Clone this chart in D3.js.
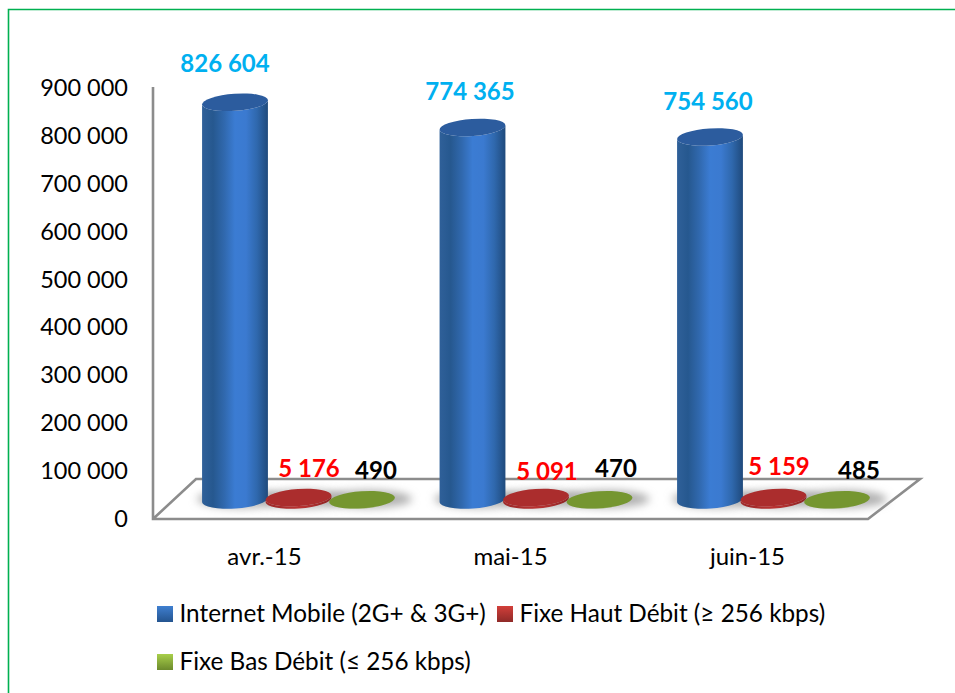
<!DOCTYPE html>
<html>
<head>
<meta charset="utf-8">
<script src="https://cdn.jsdelivr.net/npm/d3@7"></script>
<style>
  html, body { margin: 0; padding: 0; background: #fff; }
  svg { display: block; }
  text { font-family: Lato, "Open Sans", sans-serif; }
</style>
</head>
<body>
<div id="chart"></div>
<script>
// Data
const months = ['avr.-15', 'mai-15', 'juin-15']
const seriesNames = ['Internet Mobile (2G+ & 3G+)', 'Fixe Haut Débit (≥ 256 kbps)', 'Fixe Bas Débit (≤ 256 kbps)']
const mobile = [826604, 774365, 754560]
const hautDebit = [5176, 5091, 5159]
const basDebit = [490, 470, 485]
const yTicks = [0, 100000, 200000, 300000, 400000, 500000, 600000, 700000, 800000, 900000]

function draw() {
  const dimensions = { width: 955, height: 693 }
  const series = [mobile, hautDebit, basDebit]
  const labelColors = ['#00b0f0', '#ff0000', '#000000']

  // hand placed labels, same as the original chart: [series][month] -> [x, y]
  const labelPos = [
    [[225, 72], [470, 100], [708, 110]],
    [[309, 477], [547, 480], [779, 475]],
    [[376, 479], [616, 477], [859, 479]]
  ]

  const svg = d3.select('#chart')
    .append('svg')
    .attr('width', dimensions.width)
    .attr('height', dimensions.height)

  const defs = svg.append('defs')
  defs.append('filter').attr('id', 'blur')
    .attr('x', '-30%').attr('y', '-60%').attr('width', '160%').attr('height', '220%')
    .append('feGaussianBlur').attr('stdDeviation', 4)

  // side to side shading of each cylinder
  const bodyStops = [
    ['#2f6099', '#26588f', '#3068ad', '#3b7cd3', '#3b7ad0', '#2f68ad', '#1f4a7c'],
    ['#a12a2a', '#a12a2a', '#b03030', '#b93232', '#b03030', '#9c2828', '#8d2424'],
    ['#6f8f2c', '#6f8f2c', '#7a9a30', '#7f9f32', '#7a9a30', '#6d8c2b', '#627f27']
  ]
  const topColors = ['#2c5c9e', '#ab2d2d', '#759630']
  bodyStops.forEach((stops, i) => {
    const g = defs.append('linearGradient').attr('id', `body${i}`)
    stops.forEach((c, k) => {
      g.append('stop').attr('offset', k / (stops.length - 1)).attr('stop-color', c)
    })
  })
  const legendStops = [['#3f7fd0', '#24548f'], ['#d23f3a', '#8f2a28'], ['#a8cf4a', '#6c8a2c']]
  legendStops.forEach((stops, i) => {
    const g = defs.append('linearGradient').attr('id', `swatch${i}`)
      .attr('x1', 0).attr('x2', 0).attr('y1', 0).attr('y2', 1)
    g.append('stop').attr('offset', 0).attr('stop-color', stops[0])
    g.append('stop').attr('offset', 1).attr('stop-color', stops[1])
  })

  // green page frame
  svg.append('path')
    .attr('d', 'M8.5,693 V9.5 H955')
    .attr('fill', 'none')
    .attr('stroke', '#00b050')
    .attr('stroke-width', 1.6)

  // Scales
  const yScale = d3.scaleLinear().domain([0, 900000]).range([519, 88])
  // bars stand on the floor, further back than the axis, so they scale a bit differently
  const barScale = d3.scaleLinear().domain([0, 900000]).range([500, 67])
  const xGroup = d3.scalePoint().domain(months).range([235, 710])
  const xSeries = d3.scalePoint().domain(d3.range(3)).range([0, 127])
  const xLabel = d3.scaleOrdinal().domain(months).range([264, 510, 747])

  // 3d floor and walls
  svg.append('path')
    .attr('d', 'M153,87 V519 H868 L920,479 H196 L153,519')
    .attr('fill', 'none')
    .attr('stroke', '#8c8c8c')
    .attr('stroke-width', 2.6)

  // y axis
  const yAxis = d3.axisLeft(yScale)
    .tickValues(yTicks)
    .tickSize(0)
    .tickPadding(0)
    .tickFormat(d => d3.format(',')(d).replace(/,/g, ' '))
  const yG = svg.append('g')
    .attr('transform', 'translate(128,0)')
    .call(yAxis)
  yG.select('.domain').remove()
  yG.selectAll('text').attr('font-size', 23.5).attr('font-family', 'Lato').attr('fill', '#000')

  // x axis
  const xG = svg.append('g')
    .attr('transform', 'translate(0,548)')
    .call(d3.axisBottom(xLabel).tickSize(0).tickPadding(0))
  xG.select('.domain').remove()
  xG.selectAll('text').attr('font-size', 24).attr('font-family', 'Lato').attr('fill', '#000')

  // flatten the series for the marks
  const marks = []
  series.forEach((values, s) => {
    values.forEach((v, m) => marks.push({ s, m, v, cx: xGroup(months[m]) + xSeries(s) }))
  })

  // floor shadows first
  svg.append('g').selectAll('ellipse')
    .data(marks)
    .join('ellipse')
    .attr('cx', d => d.cx + 6)
    .attr('cy', 499)
    .attr('rx', 44)
    .attr('ry', 9)
    .attr('fill', '#b0b0b0')
    .attr('filter', 'url(#blur)')

  // Cylinders
  const rx = 33
  const ry = 8.5
  const tilt = 4 * Math.PI / 180
  const dx = rx * Math.cos(tilt)
  const dy = rx * Math.sin(tilt)
  const bodyPath = d => {
    const top = barScale(d.v)
    const bottom = barScale(0)
    return `M${d.cx - dx},${top + dy} L${d.cx - dx},${bottom + dy}` +
      ` A${rx},${ry} -4 0 0 ${d.cx + dx},${bottom - dy}` +
      ` L${d.cx + dx},${top - dy}` +
      ` A${rx},${ry} -4 0 1 ${d.cx - dx},${top + dy} Z`
  }

  const bars = svg.append('g').selectAll('g')
    .data(marks)
    .join('g')
  bars.append('path')
    .attr('d', bodyPath)
    .attr('fill', d => `url(#body${d.s})`)
  bars.append('ellipse')
    .attr('rx', rx)
    .attr('ry', ry)
    .attr('transform', d => `translate(${d.cx},${barScale(d.v)}) rotate(-4)`)
    .attr('fill', d => topColors[d.s])

  // Value labels
  svg.append('g').selectAll('text')
    .data(marks)
    .join('text')
    .attr('x', d => labelPos[d.s][d.m][0])
    .attr('y', d => labelPos[d.s][d.m][1])
    .attr('text-anchor', 'middle')
    .attr('font-size', 24)
    .attr('font-weight', 700)
    .attr('fill', d => labelColors[d.s])
    .text(d => d3.format(',')(d.v).replace(/,/g, ' '))

  // Legend
  const legendPos = [[157, 622], [497, 622], [157, 670]]
  const legend = svg.append('g').selectAll('g')
    .data(seriesNames)
    .join('g')
    .attr('transform', (d, i) => `translate(${legendPos[i][0]},${legendPos[i][1]})`)
  legend.append('rect')
    .attr('y', -16)
    .attr('width', 16)
    .attr('height', 16)
    .attr('fill', (d, i) => `url(#swatch${i})`)
  legend.append('text')
    .attr('x', 22.5)
    .attr('font-size', 24.3)
    .attr('fill', '#000')
    .text(d => d)
}

draw()
</script>
</body>
</html>
